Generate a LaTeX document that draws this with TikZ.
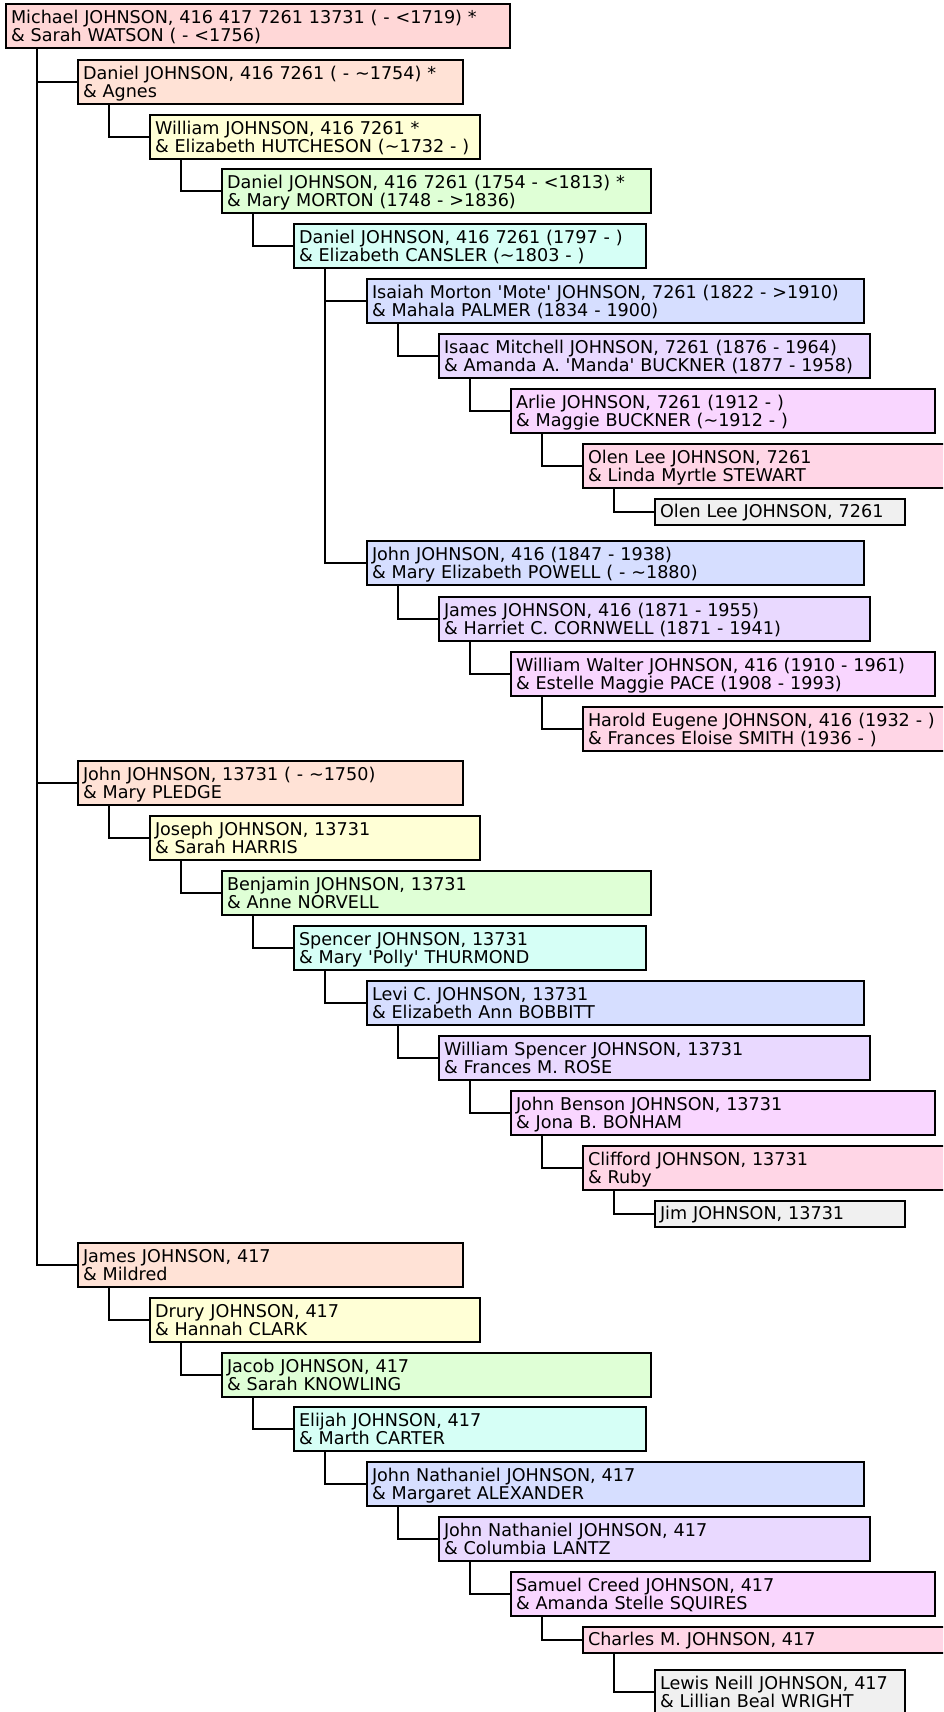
\documentclass[tikz,border=0pt]{standalone}
\usepackage{fontspec}
\setmainfont{DejaVu Sans}

\definecolor{genZero}{HTML}{FFD7D7}
\definecolor{genOne}{HTML}{FFE2D6}
\definecolor{genTwo}{HTML}{FFFFD6}
\definecolor{genThree}{HTML}{DFFFD6}
\definecolor{genFour}{HTML}{D6FFF6}
\definecolor{genFive}{HTML}{D6DEFF}
\definecolor{genSix}{HTML}{E9D9FF}
\definecolor{genSeven}{HTML}{F9D6FF}
\definecolor{genEight}{HTML}{FFD6E6}
\definecolor{genNine}{HTML}{F0F0F0}

% two lines: person & spouse, one line: person only
\newcommand{\couple}[2]{\rule{0pt}{18.5pt}#1\\#2\rule[-5pt]{0pt}{5pt}}
\newcommand{\loner}[1]{\rule[-5.5pt]{0pt}{21pt}#1}
\newcommand{\q}{\textquotesingle}
\newcommand{\tl}{\textasciitilde}

\begin{document}
\begin{tikzpicture}[x=1pt,y=-1pt,
        famNode/.style = {draw=black,line width=1.8pt,anchor=north west,align=left,outer sep=0pt,inner xsep=5pt,inner ysep=0pt,minimum height=44pt,font=\fontsize{17.6}{16.5}\selectfont},
        loneNode/.style = {minimum height=26pt},
        genA/.style = {famNode,fill=genZero,text width=494pt},
        genB/.style = {famNode,fill=genOne,text width=375pt},
        genC/.style = {famNode,fill=genTwo,text width=320pt},
        genD/.style = {famNode,fill=genThree,text width=419pt},
        genE/.style = {famNode,fill=genFour,text width=342pt},
        genF/.style = {famNode,fill=genFive,text width=487pt},
        genG/.style = {famNode,fill=genSix,text width=421pt},
        genH/.style = {famNode,fill=genSeven,text width=414pt},
        genI/.style = {famNode,fill=genEight,text width=370pt},
        genJ/.style = {famNode,fill=genNine,text width=240pt},
        link/.style = {line width=2pt}
        ]
        \useasboundingbox (0,0) rectangle (943,1712);
        \clip (0,0) rectangle (943,1712);

        \node[genA] (michael) at (6,4) {\couple{Michael JOHNSON, 416 417 7261 13731 ( - <1719) *}{\& Sarah WATSON ( - <1756)}};

        % line 416 / 7261
        \node[genB] (danielA) at (78,60) {\couple{Daniel JOHNSON, 416 7261 ( - \tl1754) *}{\& Agnes}};
        \node[genC] (william) at (150,115) {\couple{William JOHNSON, 416 7261 *}{\& Elizabeth HUTCHESON (\tl1732 - )}};
        \node[genD] (danielB) at (222,169) {\couple{Daniel JOHNSON, 416 7261 (1754 - <1813) *}{\& Mary MORTON (1748 - >1836)}};
        \node[genE] (danielC) at (294,224) {\couple{Daniel JOHNSON, 416 7261 (1797 - )}{\& Elizabeth CANSLER (\tl1803 - )}};
        \node[genF] (isaiah) at (367,279) {\couple{Isaiah Morton \q Mote\q{} JOHNSON, 7261 (1822 - >1910)}{\& Mahala PALMER (1834 - 1900)}};
        \node[genG] (isaac) at (439,334) {\couple{Isaac Mitchell JOHNSON, 7261 (1876 - 1964)}{\& Amanda A. \q Manda\q{} BUCKNER (1877 - 1958)}};
        \node[genH] (arlie) at (511,389) {\couple{Arlie JOHNSON, 7261 (1912 - )}{\& Maggie BUCKNER (\tl1912 - )}};
        \node[genI] (olen) at (583,444) {\couple{Olen Lee JOHNSON, 7261}{\& Linda Myrtle STEWART}};
        \node[genJ,loneNode] (olenJr) at (655,499) {\loner{Olen Lee JOHNSON, 7261}};
        \node[genF] (johnB) at (367,541) {\couple{John JOHNSON, 416 (1847 - 1938)}{\& Mary Elizabeth POWELL ( - \tl1880)}};
        \node[genG] (jamesB) at (439,597) {\couple{James JOHNSON, 416 (1871 - 1955)}{\& Harriet C. CORNWELL (1871 - 1941)}};
        \node[genH] (walter) at (511,652) {\couple{William Walter JOHNSON, 416 (1910 - 1961)}{\& Estelle Maggie PACE (1908 - 1993)}};
        \node[genI] (harold) at (583,707) {\couple{Harold Eugene JOHNSON, 416 (1932 - )}{\& Frances Eloise SMITH (1936 - )}};

        % line 13731
        \node[genB] (johnA) at (78,761) {\couple{John JOHNSON, 13731 ( - \tl1750)}{\& Mary PLEDGE}};
        \node[genC] (joseph) at (150,816) {\couple{Joseph JOHNSON, 13731}{\& Sarah HARRIS}};
        \node[genD] (benjamin) at (222,871) {\couple{Benjamin JOHNSON, 13731}{\& Anne NORVELL}};
        \node[genE] (spencer) at (294,926) {\couple{Spencer JOHNSON, 13731}{\& Mary \q Polly\q{} THURMOND}};
        \node[genF] (levi) at (367,981) {\couple{Levi C. JOHNSON, 13731}{\& Elizabeth Ann BOBBITT}};
        \node[genG] (wspencer) at (439,1036) {\couple{William Spencer JOHNSON, 13731}{\& Frances M. ROSE}};
        \node[genH] (benson) at (511,1091) {\couple{John Benson JOHNSON, 13731}{\& Jona B. BONHAM}};
        \node[genI] (clifford) at (583,1146) {\couple{Clifford JOHNSON, 13731}{\& Ruby}};
        \node[genJ,loneNode] (jim) at (655,1201) {\loner{Jim JOHNSON, 13731}};

        % line 417
        \node[genB] (jamesA) at (78,1243) {\couple{James JOHNSON, 417}{\& Mildred}};
        \node[genC] (drury) at (150,1298) {\couple{Drury JOHNSON, 417}{\& Hannah CLARK}};
        \node[genD] (jacob) at (222,1353) {\couple{Jacob JOHNSON, 417}{\& Sarah KNOWLING}};
        \node[genE] (elijah) at (294,1407) {\couple{Elijah JOHNSON, 417}{\& Marth CARTER}};
        \node[genF] (nathA) at (367,1462) {\couple{John Nathaniel JOHNSON, 417}{\& Margaret ALEXANDER}};
        \node[genG] (nathB) at (439,1517) {\couple{John Nathaniel JOHNSON, 417}{\& Columbia LANTZ}};
        \node[genH] (samuel) at (511,1572) {\couple{Samuel Creed JOHNSON, 417}{\& Amanda Stelle SQUIRES}};
        \node[genI,loneNode] (charles) at (583,1627) {\loner{Charles M. JOHNSON, 417}};
        \node[genJ] (lewis) at (655,1670) {\couple{Lewis Neill JOHNSON, 417}{\& Lillian Beal WRIGHT}};

        % connectors
        \foreach \from/\to in {michael/danielA,michael/johnA,michael/jamesA,
                danielA/william,william/danielB,danielB/danielC,danielC/isaiah,danielC/johnB,
                isaiah/isaac,isaac/arlie,arlie/olen,olen/olenJr,
                johnB/jamesB,jamesB/walter,walter/harold,
                johnA/joseph,joseph/benjamin,benjamin/spencer,spencer/levi,levi/wspencer,
                wspencer/benson,benson/clifford,clifford/jim,
                jamesA/drury,drury/jacob,jacob/elijah,elijah/nathA,nathA/nathB,
                nathB/samuel,samuel/charles,charles/lewis}
            \draw[link] ([xshift=31pt]\from.south west) |- (\to.west);
    \end{tikzpicture}
\end{document}
